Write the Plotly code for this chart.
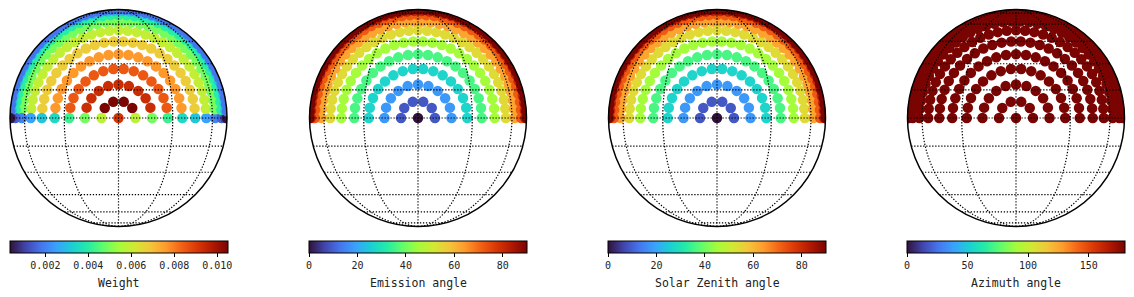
import numpy as np
import plotly.graph_objects as go

# ---- data -------------------------------------------------------------
# rings of the disk sampling: emission angle of each ring (deg) and number of
# azimuth samples in each ring (azimuths spread over 0..180 deg)
ring_emission = [0, 9, 18, 27, 36, 45, 54, 63, 72, 81, 90]
ring_npoints = [1, 6, 11, 16, 21, 26, 31, 36, 41, 46, 51]
# quadrature weight of the interior points of each ring and of its two end points
ring_weight_inner = [0.0091, 0.01048, 0.0093, 0.0085, 0.0076, 0.0067,
                     0.0059, 0.0049, 0.0040, 0.0031, 0.0018]
ring_weight_edge = [0.0091, 0.0058, 0.0049, 0.0042, 0.0035, 0.0031,
                    0.0025, 0.0020, 0.0015, 0.0010, 0.00033]
relative_azimuth = 180.0  # same for every sample

panel_titles = ["Weight", "Emission angle", "Solar Zenith angle", "Azimuth angle"]
cb_ranges = [(0.00033, 0.01048), (0, 90), (0, 90), (0, 180)]
cb_ticks = [[0.002, 0.004, 0.006, 0.008, 0.010], [0, 20, 40, 60, 80],
            [0, 20, 40, 60, 80], [0, 50, 100, 150]]
cb_ticktext = [["0.002", "0.004", "0.006", "0.008", "0.010"],
               ["0", "20", "40", "60", "80"], ["0", "20", "40", "60", "80"],
               ["0", "50", "100", "150"]]
grid_lats = [-75, -60, -45, -30, -15, 0, 15, 30, 45, 60, 75]
grid_lons = [-180, -150, -120, -90, -60, -30, 0, 30, 60, 90, 120, 150]

# ---- build sample list --------------------------------------------------
emis, azim, wts = [], [], []
for e, n, wi, we in zip(ring_emission, ring_npoints, ring_weight_inner, ring_weight_edge):
    if n == 1:
        emis.append(e); azim.append(0.0); wts.append(wi)
        continue
    for j, a in enumerate(np.linspace(0, 180, n)):
        emis.append(e); azim.append(a)
        wts.append(we if j in (0, n - 1) else wi)
emis = np.array(emis, float); azim = np.array(azim, float)
er, ar = np.radians(emis), np.radians(azim)
lat = np.degrees(np.arcsin(np.sin(er) * np.sin(ar)))
lon = np.degrees(np.arctan2(np.sin(er) * np.cos(ar), np.cos(er)))

values = [np.array(wts), emis, emis.copy(), np.full(len(emis), relative_azimuth)]

W, H = 1134, 297
centers = [118.5, 418, 717, 1016]
cy = 118
R = 108.5

FONT = "DejaVu Sans Mono"
fig = go.Figure()
shapes, annotations = [], []
for i in range(4):
    geo = "geo" if i == 0 else f"geo{i+1}"
    cmin, cmax = cb_ranges[i]
    fig.add_trace(go.Scattergeo(
        lon=lon, lat=lat, mode="markers", geo=geo,
        marker=dict(size=10.5, color=values[i], colorscale="Turbo",
                    cmin=cmin, cmax=cmax, line=dict(width=0), opacity=1,
                    colorbar=dict(
                        orientation="h", x=centers[i] / W, xanchor="center",
                        y=(H - 241) / H, yanchor="top",
                        len=218, lenmode="pixels", thickness=12,
                        outlinecolor="black", outlinewidth=1,
                        ticks="outside", ticklen=4, tickcolor="black",
                        tickvals=cb_ticks[i], ticktext=cb_ticktext[i],
                        tickfont=dict(family=FONT, size=10, color="#222"),
                        xpad=0, ypad=0)),
        showlegend=False, hoverinfo="skip"))
    # dotted graticule drawn on top of the markers
    for la in grid_lats:
        fig.add_trace(go.Scattergeo(
            lon=np.arange(-180, 181, 1.0), lat=np.full(361, la), mode="lines", geo=geo,
            line=dict(color="black", width=1.2, dash="1.3px,1.7px"),
            showlegend=False, hoverinfo="skip"))
    for lo in grid_lons:
        fig.add_trace(go.Scattergeo(
            lon=np.full(181, lo), lat=np.arange(-90, 91, 1.0), mode="lines", geo=geo,
            line=dict(color="black", width=1.2, dash="1.3px,1.7px"),
            showlegend=False, hoverinfo="skip"))
    geo_layout = dict(
        domain=dict(x=[(centers[i] - R) / W, (centers[i] + R) / W],
                    y=[(H - (cy + R)) / H, (H - (cy - R)) / H]),
        projection=dict(type="orthographic", rotation=dict(lon=0, lat=0, roll=0)),
        showland=False, showocean=False, showlakes=False, showrivers=False,
        showcountries=False, showcoastlines=False, showsubunits=False,
        showframe=False, bgcolor="rgba(0,0,0,0)",
        lataxis=dict(showgrid=False), lonaxis=dict(showgrid=False),
    )
    fig.update_layout({geo: geo_layout})

    # white mask outside the disk (clips the limb markers) + disk outline
    cx_p, cy_p = centers[i] / W, (H - cy) / H
    rx, ry = R / W, R / H
    pad = 12
    x0, x1 = (centers[i] - R - pad) / W, (centers[i] + R + pad) / W
    y0, y1 = (H - (cy + R + pad)) / H, (H - (cy - R - pad)) / H
    t = np.linspace(0, 2 * np.pi, 241)
    circ = " ".join(("M" if k == 0 else "L") + f"{cx_p + rx*np.cos(a):.6f},{cy_p + ry*np.sin(a):.6f}"
                    for k, a in enumerate(t))
    path = f"M{x0},{y0} L{x1},{y0} L{x1},{y1} L{x0},{y1} Z " + circ + " Z"
    shapes.append(dict(type="path", xref="paper", yref="paper", path=path,
                       fillcolor="white", fillrule="evenodd", line=dict(width=0),
                       layer="above"))
    shapes.append(dict(type="circle", xref="paper", yref="paper",
                       x0=cx_p - rx, x1=cx_p + rx, y0=cy_p - ry, y1=cy_p + ry,
                       line=dict(color="black", width=1.5), layer="above"))
    annotations.append(dict(text=panel_titles[i], xref="paper", yref="paper",
                            x=cx_p, y=(H - 283) / H, xanchor="center", yanchor="middle",
                            showarrow=False, font=dict(family=FONT, size=11.5, color="#222")))

fig.update_layout(width=W, height=H, margin=dict(l=0, r=0, t=0, b=0),
                  paper_bgcolor="white", plot_bgcolor="white",
                  shapes=shapes, annotations=annotations)
fig.write_html("out.html")
